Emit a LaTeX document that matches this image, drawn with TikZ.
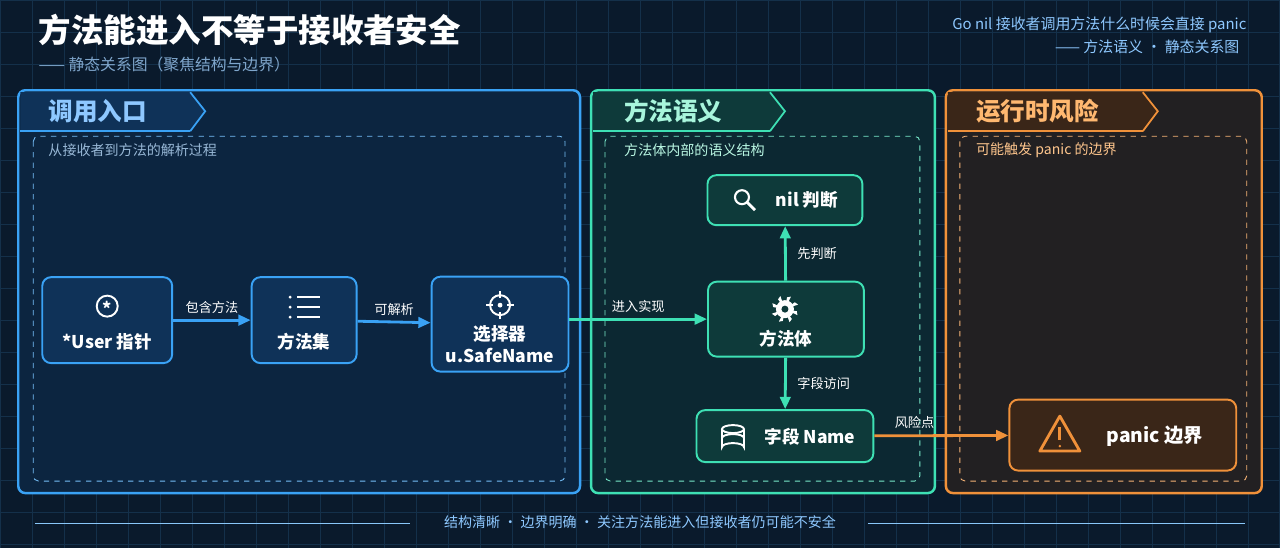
\documentclass[tikz,border=0pt]{standalone}
\usepackage{fontspec}
\setmainfont{Noto Sans CJK SC}
\usetikzlibrary{arrows.meta,positioning}
\definecolor{bgColor}{HTML}{0A1A2C}
\definecolor{gridColor}{HTML}{14304A}
\definecolor{blueLine}{HTML}{3AA2F5}
\definecolor{blueFill}{HTML}{0F3258}
\definecolor{blueText}{HTML}{8EC8FF}
\definecolor{greenLine}{HTML}{3EE0B4}
\definecolor{greenFill}{HTML}{0E3A3A}
\definecolor{greenText}{HTML}{A8F5DC}
\definecolor{orangeLine}{HTML}{F0913A}
\definecolor{orangeFill}{HTML}{3A2618}
\definecolor{orangeText}{HTML}{FFB870}
\definecolor{mutedText}{HTML}{7FA6CC}

\begin{document}
\begin{tikzpicture}[x=0.02cm,y=-0.02cm,%%
  panelStyle/.style={line width=1.4pt,rounded corners=4pt},%%
  innerStyle/.style={dashed,line width=0.5pt,rounded corners=3pt},%%
  boxStyle/.style={draw,line width=1.1pt,rounded corners=5pt,inner sep=0pt},%%
  textStyle/.style={font=\bfseries\fontsize{10}{11}\selectfont,white,align=center,inner sep=1pt},%%
  labelStyle/.style={font=\fontsize{7.5}{9}\selectfont,white,inner sep=2pt},%%
  arrowStyle/.style={-{Triangle[length=7pt,width=6pt]},line width=1.6pt}%%
]
%%
%% Background and grid.
\fill[bgColor] (0,0) rectangle (1280,548);
\foreach \gx in {0,32,...,1280} {\draw[gridColor,line width=0.3pt] (\gx,0) -- (\gx,548);}
\foreach \gy in {0,32,...,548} {\draw[gridColor,line width=0.3pt] (0,\gy) -- (1280,\gy);}
\useasboundingbox (0,0) rectangle (1280,548);
%%
%% Titles.
\node[anchor=west,white,font=\bfseries\fontsize{18.5}{21}\selectfont,inner sep=0pt] (title) at (38,30) {方法能进入不等于接收者安全};
\node[anchor=west,mutedText,font=\fontsize{9}{11}\selectfont,inner sep=0pt] (subtitle) at (38,64) {—— 静态关系图（聚焦结构与边界）};
\node[anchor=east,blueText,font=\fontsize{8.5}{10}\selectfont,inner sep=0pt] (topNote) at (1247,25) {Go nil 接收者调用方法什么时候会直接 panic};
\node[anchor=east,blueText,font=\fontsize{8.5}{10}\selectfont,inner sep=0pt] (topSub) at (1240,47) {—— 方法语义 · 静态关系图};
%%
%% Panels.
\draw[panelStyle,blueLine,fill=blueFill!45!bgColor] (18,90) rectangle (580,493);
\fill[blueFill] (20,92) -- (190,92) -- (205,111) -- (190,131) -- (20,131) -- cycle;
\draw[blueLine,line width=1pt] (190,92) -- (205,111) -- (190,131);
\draw[blueLine,line width=1pt] (20,131) -- (190,131);
\node[anchor=west,blueText,font=\bfseries\fontsize{14}{16}\selectfont] (tabA) at (42,111) {调用入口};
\draw[innerStyle,blueLine!70] (33,136) rectangle (565,481);
\node[anchor=west,mutedText!80!white,font=\fontsize{8}{10}\selectfont] (noteA) at (42,150) {从接收者到方法的解析过程};
%%
\draw[panelStyle,greenLine,fill=greenFill!45!bgColor] (591,90) rectangle (935,493);
\fill[greenFill] (593,92) -- (770,92) -- (785,111) -- (770,131) -- (593,131) -- cycle;
\draw[greenLine,line width=1pt] (770,92) -- (785,111) -- (770,131);
\draw[greenLine,line width=1pt] (593,131) -- (770,131);
\node[anchor=west,greenText,font=\bfseries\fontsize{14}{16}\selectfont] (tabB) at (618,111) {方法语义};
\draw[innerStyle,greenLine!70] (605,136) rectangle (920,481);
\node[anchor=west,greenText!80!white,font=\fontsize{8}{10}\selectfont] (noteB) at (618,150) {方法体内部的语义结构};
%%
\draw[panelStyle,orangeLine,fill=orangeFill!50!bgColor] (946,90) rectangle (1262,493);
\fill[orangeFill] (948,92) -- (1143,92) -- (1158,111) -- (1143,131) -- (948,131) -- cycle;
\draw[orangeLine,line width=1pt] (1143,92) -- (1158,111) -- (1143,131);
\draw[orangeLine,line width=1pt] (948,131) -- (1143,131);
\node[anchor=west,orangeText,font=\bfseries\fontsize{14}{16}\selectfont] (tabC) at (970,111) {运行时风险};
\draw[innerStyle,orangeLine!70] (960,136) rectangle (1247,481);
\node[anchor=west,orangeText!80!white,font=\fontsize{8}{10}\selectfont] (noteC) at (970,150) {可能触发 panic 的边界};
%%
%% Boxes.
\node[boxStyle,blueLine,fill=blueFill,minimum width=2.6cm,minimum height=1.72cm] (User) at (107,320) {};
\node[boxStyle,blueLine,fill=blueFill,minimum width=2.1cm,minimum height=1.72cm] (MethodSet) at (304,320) {};
\node[boxStyle,blueLine,fill=blueFill,minimum width=2.74cm,minimum height=1.9cm] (Selector) at (500,324) {};
\node[boxStyle,greenLine,fill=greenFill,minimum width=3.1cm,minimum height=1.0cm] (NilCheck) at (785,200) {};
\node[boxStyle,greenLine,fill=greenFill,minimum width=3.12cm,minimum height=1.5cm] (Body) at (786,319) {};
\node[boxStyle,greenLine,fill=greenFill,minimum width=3.54cm,minimum height=1.04cm] (Field) at (785,436) {};
\node[boxStyle,orangeLine,fill=orangeFill,minimum width=4.54cm,minimum height=1.42cm] (Panic) at (1123,435) {};
%%
%% Box texts.
\node[textStyle] (UserText) at (107,342) {*User 指针};
\node[textStyle] (MethodSetText) at (304,342) {方法集};
\node[textStyle,font=\bfseries\fontsize{10}{13}\selectfont] (SelectorText) at (500,344) {选择器\\u.SafeName};
\node[textStyle] (NilCheckText) at (807,200) {nil 判断};
\node[textStyle] (BodyText) at (786,339) {方法体};
\node[textStyle] (FieldText) at (810,437) {字段 Name};
\node[textStyle,font=\bfseries\fontsize{11}{12}\selectfont] (PanicText) at (1155,436) {panic 边界};
%%
%% Icons.
\draw[white,line width=1.1pt] (107,306) circle (10.5);
\node[white,font=\bfseries\fontsize{10}{10}\selectfont,inner sep=0pt] (UserIcon) at (107,308) {*};
\foreach \ly in {297,307,317} {
  \fill[white] (290,\ly) circle (1.6);
  \draw[white,line width=1.1pt] (297,\ly) -- (320,\ly);
}
\draw[white,line width=1.1pt] (500,305) circle (10);
\fill[white] (500,305) circle (2.4);
\foreach \ang in {0,90,180,270} {\draw[white,line width=1.1pt] (500,305) ++(\ang:7) -- ++(\ang:7);}
\draw[white,line width=1.2pt] (742,197) circle (7);
\draw[white,line width=1.6pt] (747,202) -- (755,210);
\fill[white] (785,309) circle (9);
\foreach \ang in {0,45,...,315} {\fill[white] (785,309) ++(\ang:0) -- ++(\ang+10:12) -- ++(\ang+80:4) -- cycle;}
\fill[greenFill] (785,309) circle (3.5);
\draw[white,line width=1.1pt] (722,429) -- (722,447) arc (180:360:11 and 4) -- (744,429);
\draw[white,line width=1.1pt] (733,429) ellipse (11 and 4);
\draw[white,line width=1.1pt] (722,438) arc (180:360:11 and 4);
\draw[orangeLine,line width=1.6pt,line join=round] (1060,416) -- (1080,451) -- (1040,451) -- cycle;
\draw[orangeLine,line width=1.8pt] (1060,427) -- (1060,440);
\fill[orangeLine] (1060,446) circle (1.4);
%%
%% Connectors.
\draw[arrowStyle,blueLine] (User) -- node[labelStyle,above=1pt] {包含方法} (MethodSet);
\draw[arrowStyle,blueLine] (MethodSet) -- node[labelStyle,above=1pt] {可解析} (Selector);
\draw[arrowStyle,greenLine] (Selector.east |- Body) -- node[labelStyle,above=1pt] {进入实现} (Body);
\draw[arrowStyle,greenLine] (Body) -- node[labelStyle,right=4pt] {先判断} (NilCheck);
\draw[arrowStyle,greenLine] (Body) -- node[labelStyle,right=4pt] {字段访问} (Field);
\draw[arrowStyle,orangeLine] (Field) -- node[labelStyle,above=1pt,pos=0.3] {风险点} (Panic);
%%
%% Footer.
\draw[blueLine!60,line width=0.6pt] (35,523) -- (410,523);
\draw[blueLine!60,line width=0.6pt] (868,523) -- (1245,523);
\node[blueText,font=\fontsize{8}{10}\selectfont] (footer) at (640,522) {结构清晰 · 边界明确 · 关注方法能进入但接收者仍可能不安全};
\end{tikzpicture}
\end{document}
